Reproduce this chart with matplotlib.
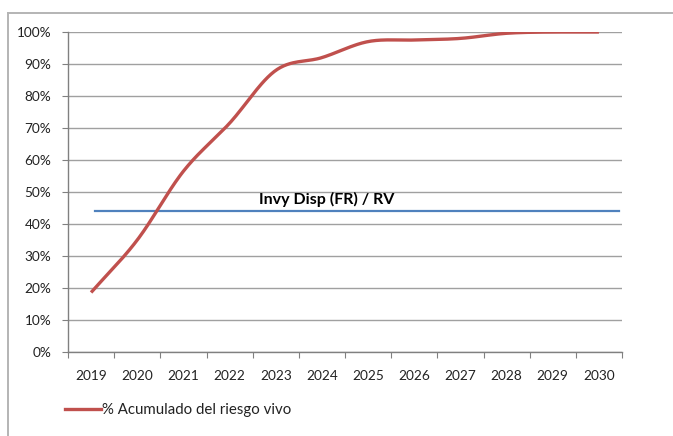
import numpy as np
import matplotlib
matplotlib.use("Agg")
import matplotlib.pyplot as plt
from matplotlib.lines import Line2D
from matplotlib.ticker import PercentFormatter, FixedLocator, NullFormatter

plt.rcParams['font.family'] = ['Lato', 'DejaVu Sans']

years = ['2019', '2020', '2021', '2022', '2023', '2024', '2025', '2026', '2027', '2028', '2029', '2030']
acumulado = [18.6, 35.0, 56.5, 71.5, 88.0, 92.0, 97.0, 97.5, 98.0, 99.6, 100.0, 100.0]
umbral = 44.0
umbral_label = 'Invy Disp (FR) / RV'
serie_label = '% Acumulado del riesgo vivo'

W, H = 673, 436
fig = plt.figure(figsize=(W / 100, H / 100), dpi=100)
ax = fig.add_axes([68 / W, 1 - 352 / H, (622 - 68) / W, (352 - 32) / H])

x = np.arange(len(years)) + 0.5
y = np.array(acumulado)

# Smooth (Catmull-Rom style) curve through the data points, like Excel's smoothed line
def smooth(xp, yp, n=30):
    P = np.column_stack([xp, yp])
    P = np.vstack([P[0] - (P[1] - P[0]), P, P[-1] + (P[-1] - P[-2])])
    out = []
    for i in range(1, len(P) - 2):
        p0, p1, p2, p3 = P[i - 1], P[i], P[i + 1], P[i + 2]
        t = np.linspace(0, 1, n)[:, None]
        c1 = p1 + (p2 - p0) / 6
        c2 = p2 - (p3 - p1) / 6
        seg = (1 - t) ** 3 * p1 + 3 * (1 - t) ** 2 * t * c1 + 3 * (1 - t) * t ** 2 * c2 + t ** 3 * p2
        out.append(seg if i == 1 else seg[1:])
    S = np.vstack(out)
    return S[:, 0], np.minimum(S[:, 1], 100.0)

sx, sy = smooth(x, y)
ax.plot(sx, sy, color='#C0504D', lw=2.4, solid_capstyle='butt', zorder=3, label=serie_label)

ax.plot([0.58, 11.93], [umbral, umbral], color='#4F81BD', lw=1.6, zorder=2)
ax.text(5.6, umbral + 1.2, umbral_label, ha='center', va='bottom', fontsize=11.5,
        fontweight='bold', color='black')

ax.set_xlim(0, 12)
ax.set_ylim(0, 100)
ax.yaxis.set_major_locator(FixedLocator(np.arange(0, 101, 10)))
ax.yaxis.set_major_formatter(PercentFormatter(decimals=0))
ax.grid(axis='y', color='#A0A0A0', lw=1.0)
ax.set_axisbelow(True)

ax.xaxis.set_major_locator(FixedLocator(np.arange(0, 13)))
ax.xaxis.set_major_formatter(NullFormatter())
ax.xaxis.set_minor_locator(FixedLocator(x))
ax.set_xticklabels(years, minor=True)
ax.tick_params(axis='x', which='major', length=4, color='#808080', direction='out')
ax.tick_params(axis='x', which='minor', length=0, pad=13, labelsize=9.8, labelcolor='#222222')
ax.tick_params(axis='y', length=4, color='#808080', direction='out', pad=8, labelsize=9.8, labelcolor='#222222')

for s in ['top', 'right']:
    ax.spines[s].set_visible(False)
for s in ['left', 'bottom']:
    ax.spines[s].set_color('#808080')
    ax.spines[s].set_linewidth(1.0)

fig.legend(handles=[Line2D([], [], color='#C0504D', lw=2.4)], labels=[serie_label],
           loc='center left', bbox_to_anchor=(65 / W, 1 - 410 / H), frameon=False,
           handlelength=2.4, handletextpad=0.1, borderpad=0, borderaxespad=0,
           fontsize=10.8, labelcolor='#222222')

# outer chart frame (partially visible)
fx = 7.5 / W
fy = 1 - 12.7 / H
fig.add_artist(Line2D([fx, fx], [0, fy], transform=fig.transFigure, color='#B4B4B4', lw=1.4))
fig.add_artist(Line2D([fx, 1], [fy, fy], transform=fig.transFigure, color='#B4B4B4', lw=1.4))

fig.savefig('out.png', dpi=100)
